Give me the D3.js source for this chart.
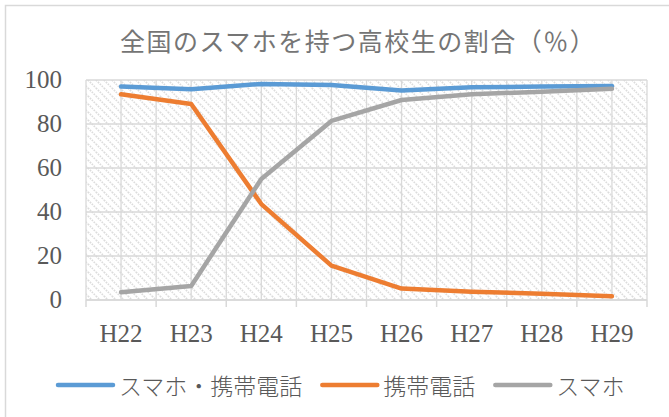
<!DOCTYPE html>
<html>
<head>
<meta charset="utf-8">
<script src="https://cdn.jsdelivr.net/npm/d3@7"></script>
<style>
  body { margin: 0; background: #fff; }
  svg { display: block; }
</style>
</head>
<body>
<svg id="svg" width="669" height="417"></svg>
<script>
const width = 669;
const height = 417;

const title = '全国のスマホを持つ高校生の割合（％）';
const years = ['H22', 'H23', 'H24', 'H25', 'H26', 'H27', 'H28', 'H29'];
const yTicks = [0, 20, 40, 60, 80, 100];

const seriesNames = ['スマホ・携帯電話', '携帯電話', 'スマホ'];
const seriesColors = ['#5b9bd5', '#ed7d31', '#a5a5a5'];
const phoneOrSmart = [97.0, 95.8, 98.2, 97.7, 95.2, 96.7, 97.0, 97.3];
const mobileOnly = [93.5, 89.1, 43.6, 15.6, 5.2, 3.8, 2.8, 1.7];
const smartOnly = [3.5, 6.4, 55.0, 81.4, 90.9, 93.5, 94.7, 96.0];
const seriesValues = [phoneOrSmart, mobileOnly, smartOnly];

const paddings = {
  left: 86,
  top: 80,
  right: 22,
  bottom: 117
};

const gridColor = '#d9d9d9';
const textColor = '#595959';

const svg = d3.select('#svg');

// outer chart border
svg.append('rect')
  .attr('x', 5.5)
  .attr('y', 5.5)
  .attr('width', width + 20)
  .attr('height', height + 20)
  .attr('fill', '#fff')
  .attr('stroke', '#d9d9d9')
  .attr('stroke-width', 1.5);

// hatch pattern for the plot area
const defs = svg.append('defs');
const pattern = defs.append('pattern')
  .attr('id', 'hatch')
  .attr('patternUnits', 'userSpaceOnUse')
  .attr('width', 8)
  .attr('height', 8);
pattern.append('path')
  .attr('d', 'M0,0 L8,8 M-4,4 L4,12 M4,-4 L12,4')
  .attr('stroke', '#dcdcdc')
  .attr('stroke-width', 1.7)
  .attr('stroke-dasharray', '1.6 1.1');

const xScale = d3.scaleBand()
  .domain(years)
  .range([paddings.left, width - paddings.right]);

const yScale = d3.scaleLinear()
  .domain([0, 100])
  .range([height - paddings.bottom, paddings.top]);

const plotW = width - paddings.right - paddings.left;
const plotH = height - paddings.bottom - paddings.top;

svg.append('rect')
  .attr('x', paddings.left)
  .attr('y', paddings.top)
  .attr('width', plotW)
  .attr('height', plotH)
  .attr('fill', 'url(#hatch)');

// vertical gridlines: category edges and centres
const edges = years.map(d => xScale(d)).concat([xScale.range()[1]]);
const centres = years.map(d => xScale(d) + xScale.bandwidth() / 2);

svg.append('g')
  .selectAll('line')
  .data(edges.concat(centres))
  .enter()
  .append('line')
  .attr('x1', d => d)
  .attr('x2', d => d)
  .attr('y1', paddings.top)
  .attr('y2', height - paddings.bottom)
  .attr('stroke', gridColor)
  .attr('stroke-width', 1.3);

// horizontal gridlines
svg.append('g')
  .selectAll('line')
  .data(yTicks)
  .enter()
  .append('line')
  .attr('x1', paddings.left)
  .attr('x2', width - paddings.right)
  .attr('y1', d => yScale(d))
  .attr('y2', d => yScale(d))
  .attr('stroke', gridColor)
  .attr('stroke-width', 1.3);

// x axis line and ticks
const xAxisG = svg.append('g')
  .attr('transform', 'translate(0,' + (height - paddings.bottom) + ')');
xAxisG.append('line')
  .attr('x1', paddings.left)
  .attr('x2', width - paddings.right)
  .attr('stroke', '#d9d9d9')
  .attr('stroke-width', 1.5);
xAxisG.selectAll('line.tick')
  .data(edges)
  .enter()
  .append('line')
  .attr('class', 'tick')
  .attr('x1', d => d)
  .attr('x2', d => d)
  .attr('y1', 0)
  .attr('y2', 7)
  .attr('stroke', '#d9d9d9')
  .attr('stroke-width', 1.5);
xAxisG.selectAll('text')
  .data(years)
  .enter()
  .append('text')
  .attr('x', d => xScale(d) + xScale.bandwidth() / 2)
  .attr('y', 41.5)
  .attr('text-anchor', 'middle')
  .attr('font-family', '"Liberation Serif", serif')
  .attr('font-size', 25)
  .attr('fill', textColor)
  .text(d => d);

// y axis labels
svg.append('g')
  .selectAll('text')
  .data(yTicks)
  .enter()
  .append('text')
  .attr('x', paddings.left - 24)
  .attr('y', d => yScale(d) + 8.3)
  .attr('text-anchor', 'end')
  .attr('font-family', '"Liberation Serif", serif')
  .attr('font-size', 25)
  .attr('fill', textColor)
  .text(d => d);

// lines
const line = d3.line()
  .x((d, i) => xScale(years[i]) + xScale.bandwidth() / 2)
  .y(d => yScale(d));

svg.append('g')
  .selectAll('path')
  .data(seriesValues)
  .enter()
  .append('path')
  .attr('d', d => line(d))
  .attr('fill', 'none')
  .attr('stroke', (d, i) => seriesColors[i])
  .attr('stroke-width', 4.5)
  .attr('stroke-linejoin', 'round')
  .attr('stroke-linecap', 'round');

// title
svg.append('text')
  .attr('x', 120)
  .attr('y', 40)
  .attr('dominant-baseline', 'central')
  .attr('font-family', '"Noto Sans CJK JP", sans-serif')
  .attr('font-size', 25)
  .attr('letter-spacing', 1.5)
  .attr('fill', '#757575')
  .text(title);

// legend
const legend = svg.append('g');
let lx = 58;
const ly = 385;
seriesNames.forEach((name, i) => {
  legend.append('line')
    .attr('x1', lx)
    .attr('x2', lx + 55)
    .attr('y1', ly)
    .attr('y2', ly)
    .attr('stroke', seriesColors[i])
    .attr('stroke-width', 4.5)
    .attr('stroke-linecap', 'round');
  const t = legend.append('text')
    .attr('x', lx + 61)
    .attr('y', ly)
    .attr('dominant-baseline', 'central')
    .attr('font-family', '"Noto Sans CJK JP", sans-serif')
    .attr('font-weight', 300)
    .attr('font-size', 23)
    .attr('fill', textColor)
    .text(name);
  lx += 61 + t.node().getComputedTextLength() + 20;
});
</script>
</body>
</html>
